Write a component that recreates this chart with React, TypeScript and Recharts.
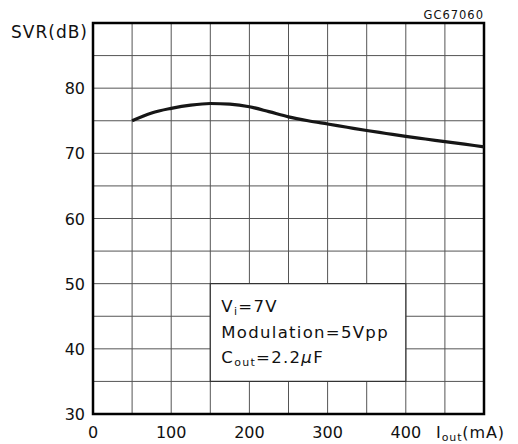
import React from 'react';
import { LineChart, Line, XAxis, YAxis, CartesianGrid, ReferenceArea } from 'recharts';

const currents = [50, 75, 100, 125, 150, 175, 200, 225, 250, 275, 300, 325, 350, 375, 400, 425, 450, 475, 500];
const svrValues = [75.0, 76.2, 76.9, 77.4, 77.65, 77.55, 77.15, 76.4, 75.6, 75.0, 74.5, 74.0, 73.5, 73.05, 72.6, 72.2, 71.8, 71.4, 71.0];
const xTicks = [0, 50, 100, 150, 200, 250, 300, 350, 400, 450, 500];
const xTickLabels = ['0', '', '100', '', '200', '', '300', '', '400', '', ''];
const yTicks = [30, 35, 40, 45, 50, 55, 60, 65, 70, 75, 80, 85, 90];
const yTickLabels = ['30', '', '40', '', '50', '', '60', '', '70', '', '80', '', ''];
const yAxisTitle = 'SVR(dB)';
const figureCode = 'GC67060';

const data = currents.map((x, i) => ({ x, svr: svrValues[i] }));

const FONT = '"DejaVu Sans", sans-serif';

const XTick = (props: any) => {
  const { x, y, payload } = props;
  const v = payload.value;
  const idx = xTicks.indexOf(v);
  if (v === 500) {
    return (
      <text x={436} y={y + 24} fontFamily={FONT} fontSize={16} fill="#111" letterSpacing={0.9}>
        I<tspan fontSize={11} dy={3}>out</tspan>
        <tspan dy={-3}>(mA)</tspan>
      </text>
    );
  }
  const label = idx >= 0 ? xTickLabels[idx] : '';
  if (!label) return <g />;
  return (
    <text x={x} y={y + 24} textAnchor="middle" fontFamily={FONT} fontSize={16} fill="#111">
      {label}
    </text>
  );
};

const YTick = (props: any) => {
  const { x, y, payload } = props;
  const v = payload.value;
  if (v === 90) {
    return (
      <text x={88} y={y + 15} textAnchor="end" fontFamily={FONT} fontSize={17} fill="#111" letterSpacing={1}>
        {yAxisTitle}
      </text>
    );
  }
  const idx = yTicks.indexOf(v);
  const label = idx >= 0 ? yTickLabels[idx] : '';
  if (!label) return <g />;
  return (
    <text x={x - 8} y={y + 6} textAnchor="end" fontFamily={FONT} fontSize={16} fill="#111">
      {label}
    </text>
  );
};

const BoxLabel = (props: any) => {
  const vb = props.viewBox || {};
  const x0 = vb.x + 11;
  const y0 = vb.y;
  const common = { fontFamily: FONT, fontSize: 16.5, fill: '#111', letterSpacing: 1.3 } as any;
  return (
    <g>
      <text x={x0} y={y0 + 28} {...common}>
        V<tspan fontSize={11} dy={3}>i</tspan>
        <tspan dy={-3}>=7V</tspan>
      </text>
      <text x={x0} y={y0 + 54} {...common}>
        Modulation=5Vpp
      </text>
      <text x={x0} y={y0 + 79} {...common}>
        C<tspan fontSize={11} dy={3}>out</tspan>
        <tspan dy={-3}>=2.2</tspan>
        <tspan fontStyle="italic">μ</tspan>F
      </text>
    </g>
  );
};

const FrameLabel = (props: any) => {
  const vb = props.viewBox || {};
  return (
    <text x={vb.x + vb.width} y={vb.y - 4} textAnchor="end" fontFamily={FONT} fontSize={11.5} fill="#111" letterSpacing={1}>
      {figureCode}
    </text>
  );
};

export default function App() {
  return (
    <div style={{ position: 'absolute', left: 0, top: 0, width: 518, height: 444, background: '#fff' }}>
      <LineChart width={518} height={444} data={data} margin={{ top: 23, right: 34, bottom: 0, left: 0 }}>
        <CartesianGrid stroke="#555" strokeWidth={1} />
        <XAxis
          dataKey="x"
          type="number"
          domain={[0, 500]}
          ticks={xTicks}
          interval={0}
          height={30}
          tickLine={false}
          axisLine={false}
          tickSize={0}
          tickMargin={0}
          tick={(p: any) => <XTick {...p} />}
        />
        <YAxis
          type="number"
          domain={[30, 90]}
          ticks={yTicks}
          interval={0}
          width={93}
          tickLine={false}
          axisLine={false}
          tickSize={0}
          tickMargin={0}
          tick={(p: any) => <YTick {...p} />}
        />
        <ReferenceArea
          x1={150}
          x2={400}
          y1={35}
          y2={50}
          fill="#fff"
          fillOpacity={1}
          stroke="#333"
          strokeWidth={1.2}
          label={(p: any) => <BoxLabel {...p} />}
        />
        <ReferenceArea
          x1={0}
          x2={500}
          y1={30}
          y2={90}
          fill="none"
          fillOpacity={0}
          stroke="#000"
          strokeWidth={2.5}
          label={(p: any) => <FrameLabel {...p} />}
        />
        <Line
          type="monotone"
          dataKey="svr"
          stroke="#161616"
          strokeWidth={3.2}
          dot={false}
          activeDot={false}
          isAnimationActive={false}
        />
      </LineChart>
    </div>
  );
}
